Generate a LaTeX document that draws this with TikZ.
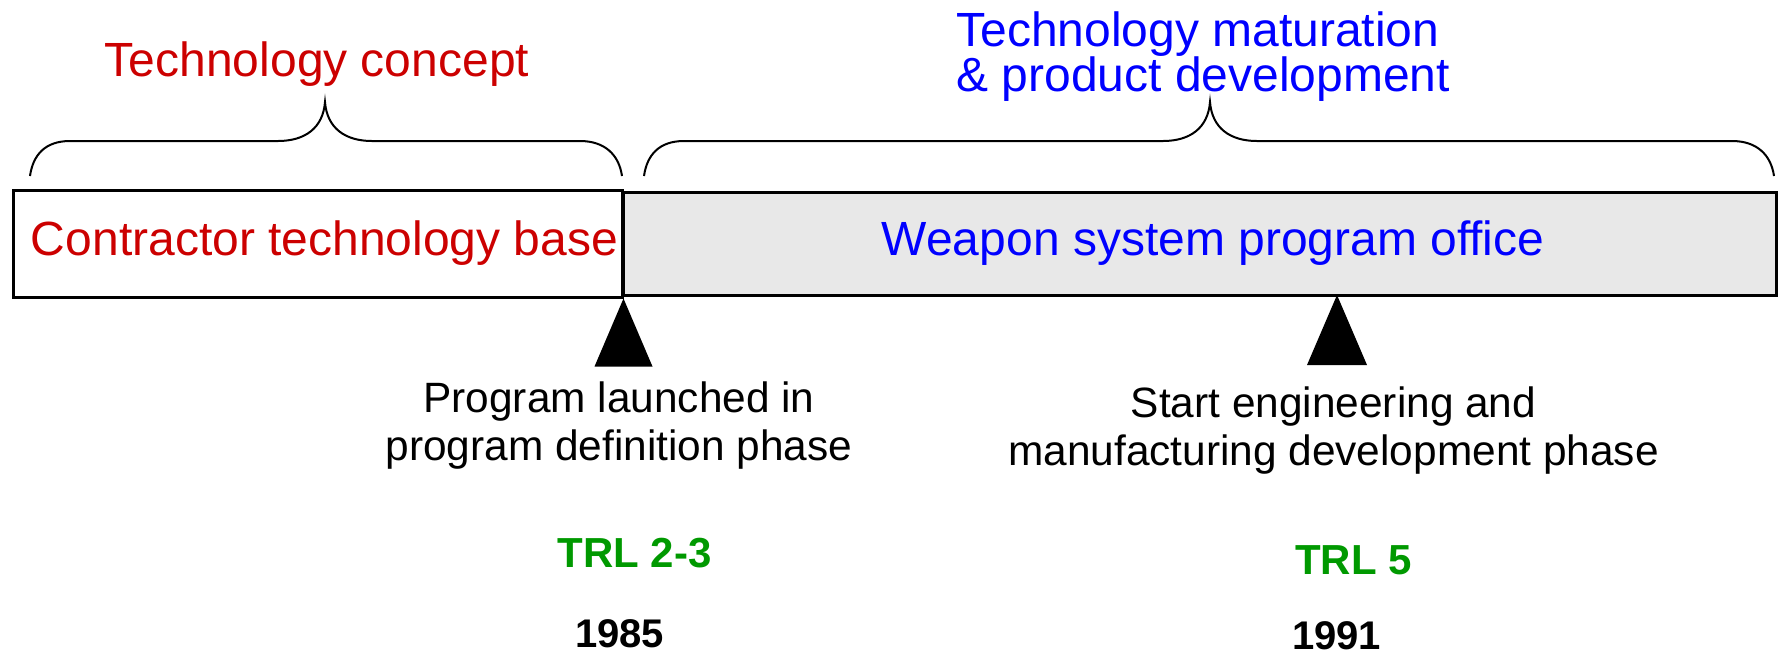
\documentclass[tikz,border=0pt]{standalone}
\usepackage{fontspec}
\setmainfont{Liberation Sans}
\usetikzlibrary{positioning}
\definecolor{conceptred}{RGB}{204, 0, 0}
\definecolor{officeblue}{RGB}{0, 0, 255}
\definecolor{trlgreen}{RGB}{0, 153, 0}
\definecolor{officegray}{RGB}{232, 232, 232}
\tikzset{
  phasebox/.style={
    draw, rectangle, line width=1.5pt,
    inner sep=0pt, font=\fontsize{24}{28}\selectfont
  },
  phasetitle/.style={
    inner sep=0pt, align=left, font=\fontsize{24}{22.5}\selectfont
  },
  milestone/.style={
    inner sep=0pt, align=center, font=\fontsize{21.2}{24}\selectfont
  },
  trl/.style={
    inner sep=0pt, text=trlgreen, font=\fontsize{21}{24}\selectfont\bfseries
  },
  yearlabel/.style={
    inner sep=0pt, font=\fontsize{20}{24}\selectfont\bfseries
  },
  bracket/.style={line width=1pt},
  marker/.style={fill=black}
}
\begin{document}
\begin{tikzpicture}[x=0.5pt, y=-0.5pt]
  \useasboundingbox (0,0) rectangle (1783,655);

  % phase boxes
  \node[phasebox, fill=officegray, text=officeblue, minimum width=576.5pt, minimum height=51.5pt] (office) at (1199.5,243.5) {\hspace*{13.6pt}Weapon system program office};
  \node[phasebox, fill=white, text=conceptred, minimum width=304.5pt, minimum height=53.5pt] (base) at (317.5,243.5) {\hspace*{7pt}Contractor technology base};

  % phase titles
  \node[phasetitle, text=conceptred, anchor=base] (concept) at (317,76) {Technology concept};
  \node[phasetitle, text=officeblue, anchor=north west] (maturation) at (956,11) {Technology maturation\\\& product development};

  % braces
  \draw[bracket] (30,176) .. controls (33,155) and (45,141) .. (70,141) -- (278,141)
    .. controls (305,141) and (323,128) .. (325,102)
    .. controls (327,128) and (345,141) .. (372,141) -- (580,141)
    .. controls (605,141) and (619,155) .. (622,176);
  \draw[bracket] (644,176) .. controls (647,155) and (659,141) .. (684,141) -- (1163,141)
    .. controls (1190,141) and (1208,128) .. (1210,102)
    .. controls (1212,128) and (1230,141) .. (1257,141) -- (1732,141)
    .. controls (1757,141) and (1771,155) .. (1774,176);

  % milestones
  \coordinate (emdmark) at (1337,295);
  \fill[marker] (base.south east) -- ++(-29,68) -- ++(58,0) -- cycle;
  \fill[marker] (emdmark) -- ++(-30,70) -- ++(60,0) -- cycle;

  \node[milestone] (launch) at (619,426) {Program launched in\\program definition phase};
  \node[milestone] (emd) at (1333.5,431) {Start engineering and\\manufacturing development phase};

  \node[trl, anchor=base] (trlA) at (634.5,567) {TRL 2-3};
  \node[yearlabel, anchor=base] (yearA) at (619.5,647) {1985};
  \node[trl, anchor=base] (trlB) at (1353.5,574) {TRL 5};
  \node[yearlabel, anchor=base] (yearB) at (1336.5,649) {1991};
\end{tikzpicture}
\end{document}
